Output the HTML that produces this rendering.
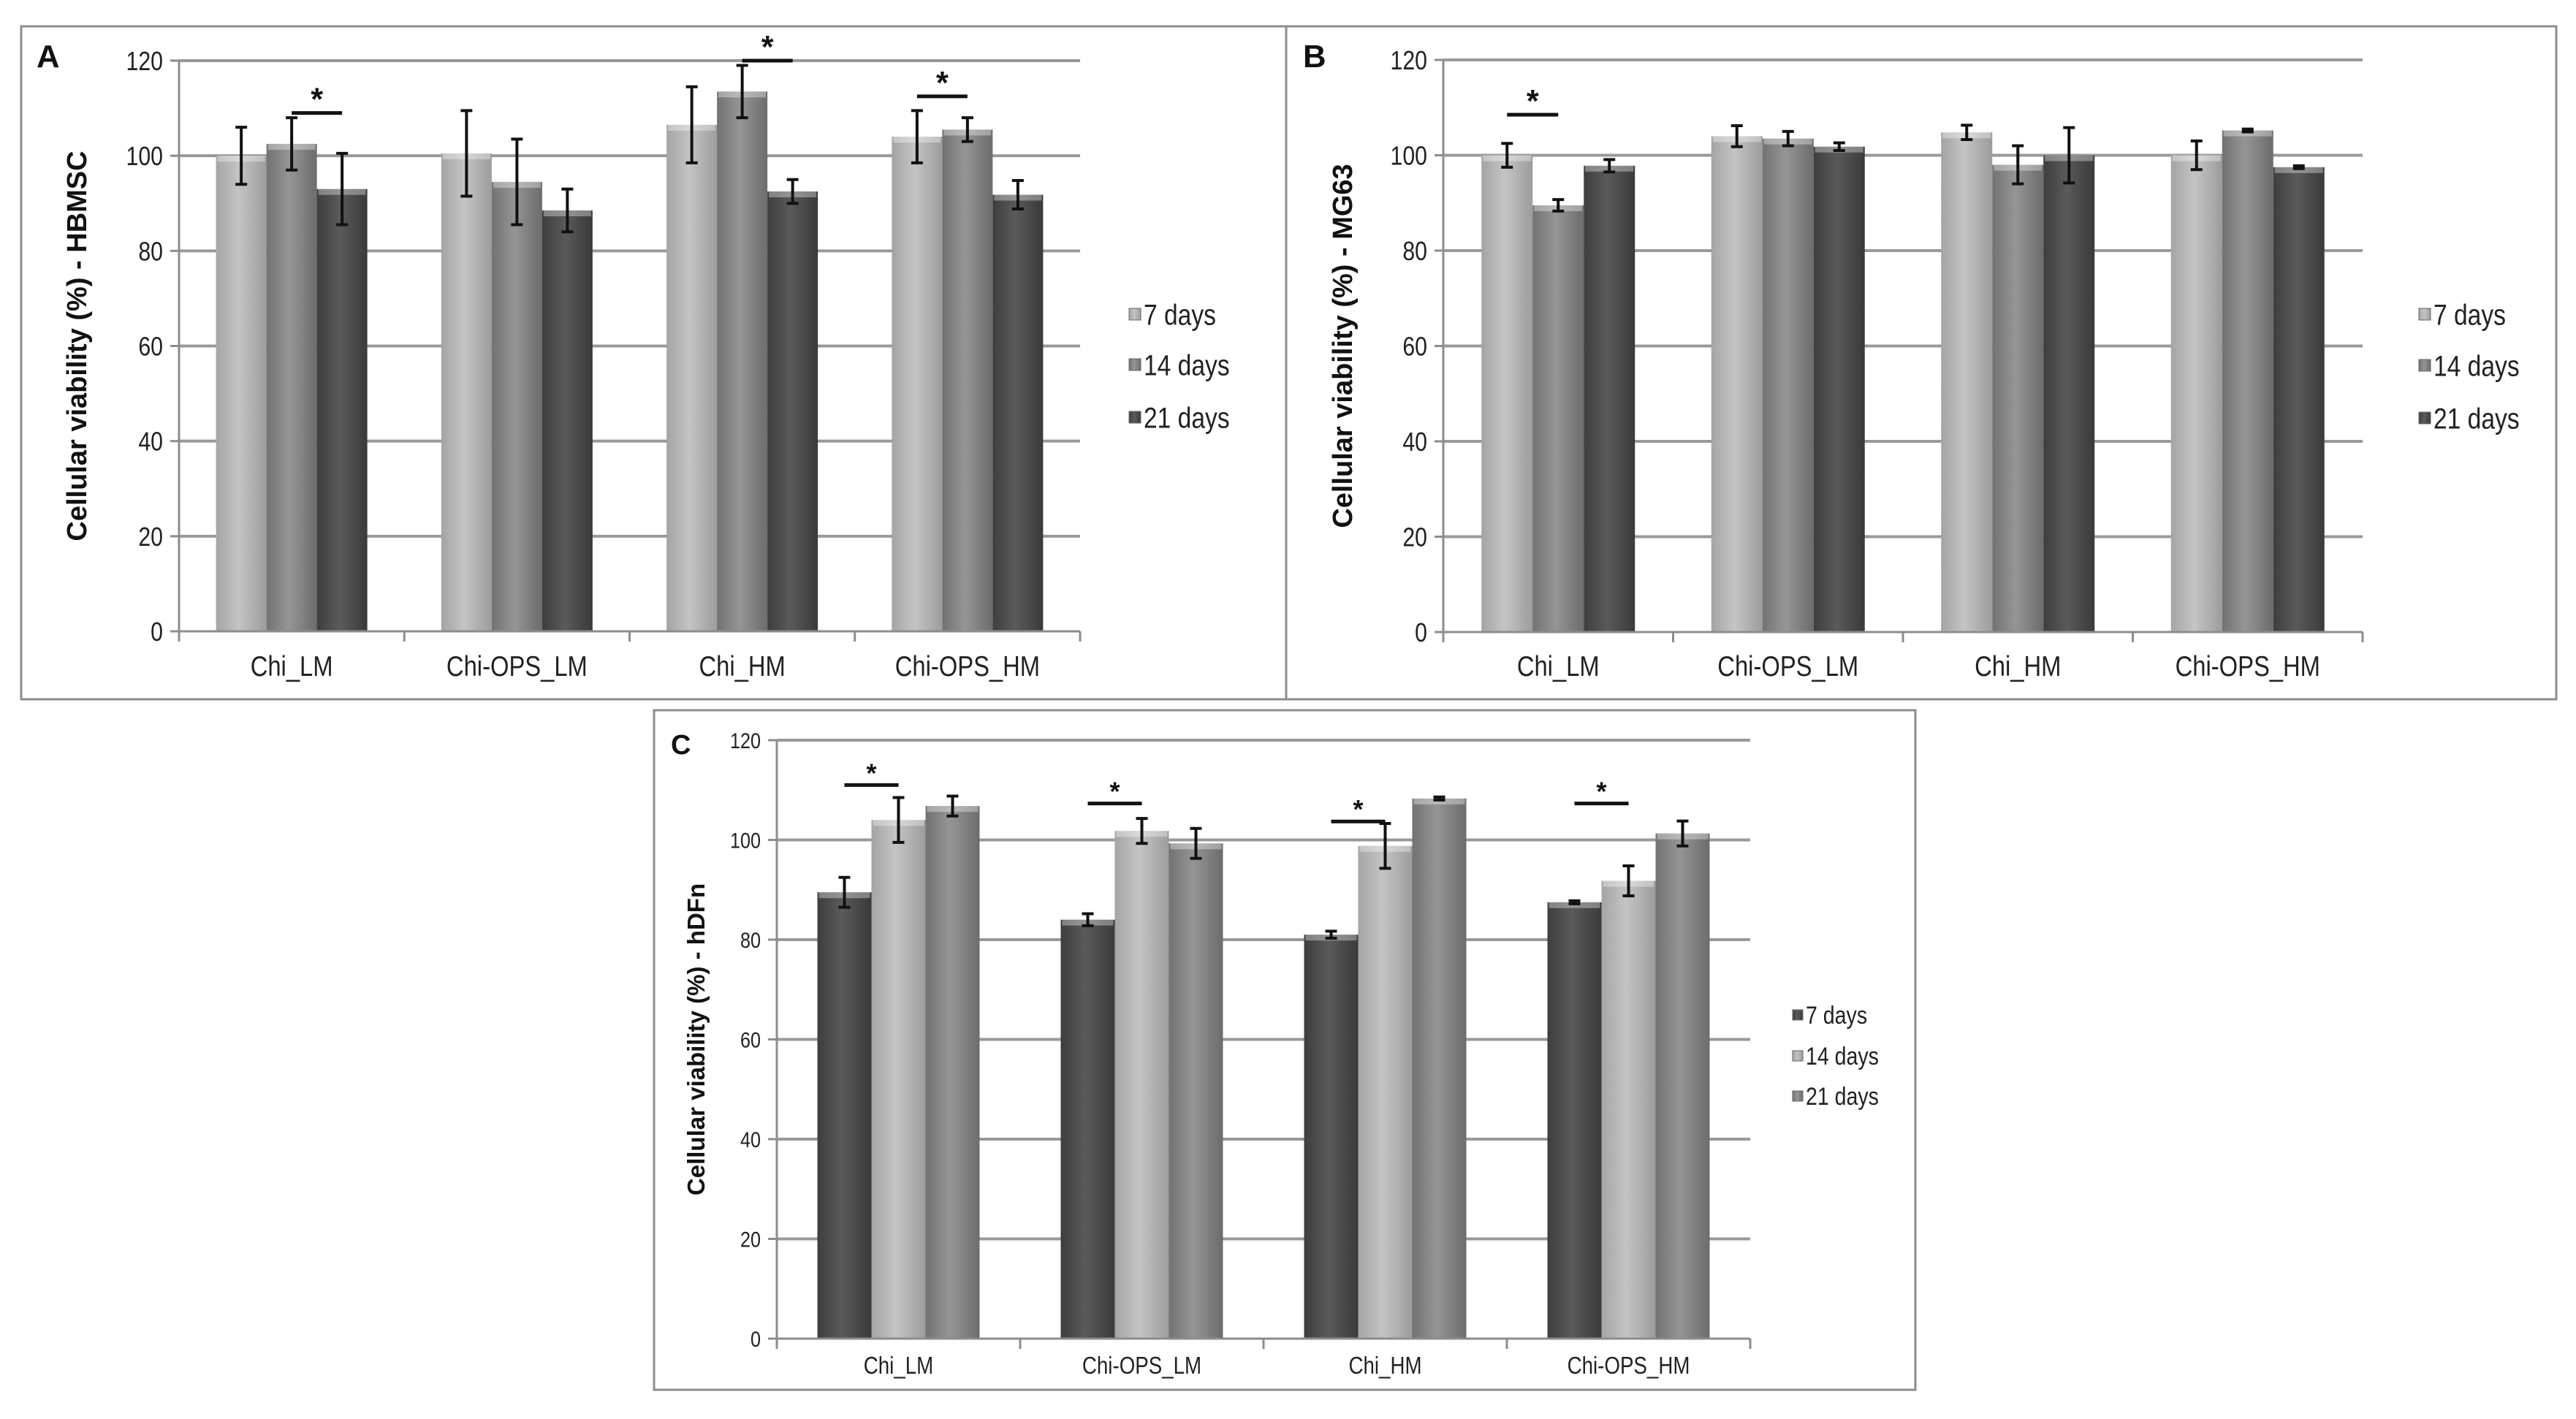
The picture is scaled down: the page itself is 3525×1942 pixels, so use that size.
<!DOCTYPE html>
<html><head><meta charset="utf-8"><style>
html,body{margin:0;padding:0;background:#fff;}
svg{display:block;font-family:"Liberation Sans",sans-serif;}
</style></head><body>
<svg id="fig" width="3525" height="1942" viewBox="0 0 3525 1942" xmlns="http://www.w3.org/2000/svg">
<defs>
<linearGradient id="gLight" x1="0" x2="1" y1="0" y2="0"><stop offset="0" stop-color="#a4a4a4"/><stop offset="0.45" stop-color="#c4c4c4"/><stop offset="1" stop-color="#9c9c9c"/></linearGradient>
<linearGradient id="gMid" x1="0" x2="1" y1="0" y2="0"><stop offset="0" stop-color="#727272"/><stop offset="0.45" stop-color="#959595"/><stop offset="1" stop-color="#6c6c6c"/></linearGradient>
<linearGradient id="gDark" x1="0" x2="1" y1="0" y2="0"><stop offset="0" stop-color="#3e3e3e"/><stop offset="0.45" stop-color="#5a5a5a"/><stop offset="1" stop-color="#3a3a3a"/></linearGradient>
</defs>
</svg>
<script>
const categories = ["Chi_LM","Chi-OPS_LM","Chi_HM","Chi-OPS_HM"];
const seriesNames = ["7 days","14 days","21 days"];
const yTicks = [0,20,40,60,80,100,120];
// Panel A - HBMSC
const aDay7 = [100,100.5,106.5,104];
const aDay14 = [102.5,94.5,113.5,105.5];
const aDay21 = [93,88.5,92.5,91.8];
const aErr7 = [6,9,8,5.5];
const aErr14 = [5.5,9,5.5,2.5];
const aErr21 = [7.5,4.5,2.5,3];
const aSig = [[0,1,2,109],[2,1,2,120],[3,0,1,112.5]];
// Panel B - MG63
const bDay7 = [100,104,104.8,100];
const bDay14 = [89.5,103.5,98,105.2];
const bDay21 = [97.8,101.8,100,97.5];
const bErr7 = [2.5,2.2,1.5,3];
const bErr14 = [1.2,1.5,4,0.3];
const bErr21 = [1.3,0.8,5.8,0.3];
const bSig = [[0,0,1,108.5]];
// Panel C - hDFn
const cDay7 = [89.5,84,81,87.5];
const cDay14 = [104,101.8,98.8,91.8];
const cDay21 = [106.8,99.3,108.3,101.3];
const cErr7 = [3,1.2,0.7,0.3];
const cErr14 = [4.5,2.5,4.5,3];
const cErr21 = [2,3,0.3,2.5];
const cSig = [[0,0,1,111],[1,0,1,107.3],[2,0,1,103.7],[3,0,1,107.3]];

const svg = document.getElementById('fig');
const NS = 'http://www.w3.org/2000/svg';
function mk(tag, attrs, parent){
  const e = document.createElementNS(NS, tag);
  for (const k in attrs) e.setAttribute(k, attrs[k]);
  (parent||svg).appendChild(e);
  return e;
}
function ntext(x, y, anchor, fs, str, parent){
  const t = mk('text', {x:0, y:0, transform:`translate(${x},${y}) scale(0.84,1)`, 'text-anchor':anchor, 'font-size':fs, fill:'#222'}, parent);
  t.textContent = str;
  return t;
}

function panel(cfg){
  const g = mk('g', {});
  
  
  const fr = mk('rect', {x:cfg.fx, y:cfg.fy, width:cfg.fw, height:cfg.fh, fill:'#fff', stroke:'#8c8c8c', 'stroke-width':3}, g);
  
  
  const L = cfg.x0, R = cfg.x1, T = cfg.yTop, B = cfg.yBot;
  const yS = v => B - (v/120)*(B-T);
  const gw = (R-L)/categories.length;
  const bw = cfg.bw;
  const xS = (ci, si) => L + gw*ci + gw/2 + (si-1.5)*bw;
  yTicks.forEach(t => {
    if (t>0){
      const gl = mk('line', {x1:L, x2:R, y1:yS(t), y2:yS(t), stroke:'#999', 'stroke-width':4}, g);
      
      
    }
    mk('line', {x1:L-12, x2:L, y1:yS(t), y2:yS(t), stroke:'#8c8c8c', 'stroke-width':3}, g);
    const tl = ntext(L-22, yS(t)+cfg.tickFs*0.36, 'end', cfg.tickFs, t, g);
    
    
  });
  const vals = [cfg.d7, cfg.d14, cfg.d21];
  const errs = [cfg.e7, cfg.e14, cfg.e21];
  categories.forEach((c, ci) => {
    vals.forEach((arr, si) => {
      const v = arr[ci];
      const x = xS(ci, si);
      const r = mk('rect', {x:x, y:yS(v), width:bw, height:B-yS(v), fill:'url(#'+cfg.fills[si]+')'}, g);
      
      
      mk('rect', {x:x+2, y:yS(v), width:bw-4, height:8, fill:'#fff', opacity:0.35}, g);
      const e = errs[si][ci];
      const cx = x + bw/2;
      const eb = mk('path', {d:`M${cx},${yS(v+e)}V${yS(v-e)}M${cx-8},${yS(v+e)}H${cx+8}M${cx-8},${yS(v-e)}H${cx+8}`, stroke:'#111', 'stroke-width':4, fill:'none'}, g);
      
      
    });
    const cl = ntext(L+gw*ci+gw/2, cfg.catY, 'middle', cfg.catFs, c, g);
    
    
  });
  mk('line', {x1:L, x2:L, y1:T, y2:B, stroke:'#8c8c8c', 'stroke-width':3}, g);
  mk('line', {x1:L, x2:R, y1:B, y2:B, stroke:'#8c8c8c', 'stroke-width':3}, g);
  for (let i=0;i<=categories.length;i++) mk('line', {x1:L+gw*i, x2:L+gw*i, y1:B, y2:B+14, stroke:'#8c8c8c', 'stroke-width':3}, g);
  cfg.sig.forEach(s => {
    const xa = xS(s[0], s[1]) + bw/2, xb = xS(s[0], s[2]) + bw/2;
    const y = yS(s[3]);
    const sl = mk('line', {x1:xa, x2:xb, y1:y, y2:y, stroke:'#111', 'stroke-width':5}, g);
    
    
    const st = mk('text', {x:(xa+xb)/2, y:y-4, 'text-anchor':'middle', 'font-size':cfg.tickFs*1.2, 'font-weight':'bold', fill:'#111'}, g);
    st.textContent = '*';
    
    
  });
  const yt = mk('text', {x:0, y:0, transform:`translate(${cfg.titleX},${(T+B)/2}) rotate(-90)`, 'text-anchor':'middle', 'font-size':cfg.titleFs, 'font-weight':'bold', fill:'#111'}, g);
  yt.textContent = cfg.title;
  
  
  const pl = mk('text', {x:cfg.letterX, y:cfg.letterY, 'font-size':cfg.titleFs*1.15, 'font-weight':'bold', fill:'#111'}, g);
  pl.textContent = cfg.letter;
  
  
  seriesNames.forEach((n, si) => {
    const ly = cfg.legY[si];
    const lg = mk('rect', {x:cfg.legX, y:ly-cfg.legSq/2, width:cfg.legSq, height:cfg.legSq, fill:'url(#'+cfg.fills[si]+')', stroke:'#666', 'stroke-width':1}, g);
    
    
    const lt = ntext(cfg.legX+cfg.legSq+4, ly+cfg.legFs*0.36, 'start', cfg.legFs, n, g);
    
    
  });
}

panel({id:'a', letter:'A', title:'Cellular viability (%)  - HBMSC', fx:29, fy:36, fw:1731, fh:921,
  x0:245, x1:1478, yTop:83, yBot:864, bw:69, d7:aDay7, d14:aDay14, d21:aDay21, e7:aErr7, e14:aErr14, e21:aErr21, sig:aSig,
  fills:['gLight','gMid','gDark'], tickFs:36, catFs:39, catY:925, titleX:118, titleFs:38, letterX:50, letterY:92,
  legX:1545, legY:[430,499,571], legSq:16, legFs:40});
panel({id:'b', letter:'B', title:'Cellular viability (%)  - MG63', fx:1760, fy:36, fw:1738, fh:921,
  x0:1975, x1:3233, yTop:82, yBot:865, bw:70, d7:bDay7, d14:bDay14, d21:bDay21, e7:bErr7, e14:bErr14, e21:bErr21, sig:bSig,
  fills:['gLight','gMid','gDark'], tickFs:36, catFs:39, catY:925, titleX:1850, titleFs:38, letterX:1783, letterY:92,
  legX:3310, legY:[430,500,572], legSq:16, legFs:40});
panel({id:'c', letter:'C', title:'Cellular viability (%)  - hDFn', fx:895, fy:972, fw:1726, fh:930,
  x0:1063, x1:2395, yTop:1013, yBot:1832, bw:74, d7:cDay7, d14:cDay14, d21:cDay21, e7:cErr7, e14:cErr14, e21:cErr21, sig:cSig,
  fills:['gDark','gLight','gMid'], tickFs:30, catFs:33, catY:1880, titleX:964, titleFs:33, letterX:918, letterY:1032,
  legX:2453, legY:[1389,1445,1500], legSq:14, legFs:34});
</script>
</body></html>
